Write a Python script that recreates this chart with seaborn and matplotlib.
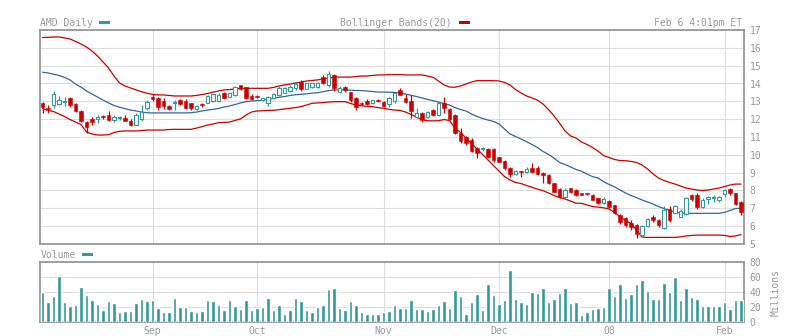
import numpy as np
import pandas as pd
import matplotlib
matplotlib.use("Agg")
import matplotlib.pyplot as plt
from matplotlib.patches import Rectangle
import seaborn as sns

# ---- data (AMD daily, Aug 6 2007 .. Feb 6 2008) ----
open_ = [12.91, 12.63, 12.78, 12.87, 12.96, 13.19, 12.85, 12.46, 11.84, 12.03,
         12.03, 12.18, 12.23, 11.95, 12.07, 12.08, 11.91, 11.69, 12.03, 12.63,
         13.22, 13.19, 13.02, 12.74, 12.91, 13.08, 13.02, 12.91, 12.57, 12.84,
         12.92, 13.02, 13.03, 13.45, 13.26, 13.35, 13.90, 13.79, 13.30, 13.30,
         13.07, 12.92, 13.16, 13.35, 13.49, 13.58, 13.77, 14.10, 13.69, 13.80,
         13.82, 14.38, 13.92, 14.47, 13.54, 13.82, 13.50, 13.17, 12.90, 13.03,
         12.89, 13.07, 12.98, 12.85, 13.02, 13.63, 13.16, 13.02, 12.10, 12.33,
         12.10, 12.51, 12.23, 12.89, 12.55, 12.23, 11.24, 11.02, 10.83, 10.37,
         10.31, 10.33, 10.31, 9.86, 9.65, 9.24, 8.92, 9.11, 9.05, 9.24,
         9.24, 8.99, 8.87, 8.40, 8.07, 7.62, 8.12, 8.03, 7.86, 7.86,
         7.75, 7.56, 7.28, 7.41, 7.19, 6.65, 6.44, 6.16, 6.07, 5.50,
         6.01, 6.53, 6.35, 5.88, 6.95, 6.75, 6.53, 6.68, 7.75, 7.75,
         7.09, 7.51, 7.58, 7.47, 7.79, 8.07, 7.84, 7.37]
high = [12.96, 12.79, 13.60, 13.32, 13.24, 13.22, 12.91, 12.53, 11.90, 12.12,
        12.23, 12.25, 12.46, 12.23, 12.18, 12.23, 12.03, 12.35, 12.81, 13.08,
        13.43, 13.26, 13.19, 12.79, 13.08, 13.11, 13.11, 12.92, 12.79, 12.91,
        13.35, 13.48, 13.45, 13.51, 13.54, 13.86, 13.93, 13.82, 13.39, 13.35,
        13.20, 13.32, 13.44, 13.86, 13.82, 13.89, 14.10, 14.20, 14.04, 14.03,
        14.10, 14.47, 14.70, 14.53, 13.86, 13.88, 13.54, 13.26, 12.98, 13.11,
        13.09, 13.13, 13.03, 13.26, 13.52, 13.72, 13.41, 13.35, 12.61, 12.42,
        12.46, 12.57, 12.98, 13.26, 12.61, 12.27, 11.49, 11.06, 10.93, 10.46,
        10.46, 10.37, 10.37, 9.88, 9.71, 9.30, 9.15, 9.11, 9.33, 9.56,
        9.37, 9.05, 8.90, 8.42, 8.12, 8.12, 8.16, 8.08, 7.87, 7.87,
        7.78, 7.58, 7.62, 7.47, 7.21, 6.71, 6.50, 6.35, 6.12, 6.07,
        6.44, 6.63, 6.38, 7.13, 7.13, 7.19, 6.95, 7.62, 7.80, 7.84,
        7.56, 7.69, 7.75, 7.69, 8.07, 8.12, 7.87, 7.41]
low = [12.35, 12.35, 12.63, 12.81, 12.74, 12.68, 12.42, 11.84, 11.22, 11.67,
       11.79, 12.03, 11.90, 11.84, 11.95, 11.90, 11.62, 11.67, 11.91, 12.51,
       13.03, 12.51, 12.57, 12.51, 12.51, 12.78, 12.55, 12.50, 12.51, 12.70,
       12.89, 12.98, 12.98, 13.15, 13.24, 13.32, 13.63, 13.13, 13.07, 13.17,
       13.02, 12.74, 13.13, 13.30, 13.45, 13.54, 13.63, 13.60, 13.67, 13.77,
       13.73, 13.97, 13.80, 13.58, 13.45, 13.52, 12.96, 12.53, 12.77, 12.78,
       12.85, 12.96, 12.66, 12.66, 12.91, 13.33, 12.93, 12.07, 12.05, 11.86,
       12.07, 12.18, 12.18, 12.33, 11.95, 11.15, 10.65, 10.55, 10.18, 9.80,
       10.23, 9.80, 9.62, 9.60, 9.15, 8.77, 8.87, 8.77, 8.99, 8.96,
       8.87, 8.40, 8.36, 7.92, 7.56, 7.54, 7.88, 7.69, 7.75, 7.74,
       7.44, 7.24, 7.24, 7.00, 6.68, 6.12, 5.97, 5.79, 5.32, 5.45,
       5.97, 6.25, 5.97, 5.82, 6.25, 6.72, 6.50, 6.63, 7.43, 6.95,
       7.00, 7.24, 7.37, 7.34, 7.65, 7.75, 7.19, 6.62]
close = [12.68, 12.57, 13.41, 13.08, 13.02, 12.81, 12.47, 11.91, 11.58, 11.84,
         12.14, 12.12, 11.95, 12.12, 12.12, 11.91, 11.66, 12.25, 12.40, 12.96,
         13.15, 12.68, 12.74, 12.57, 12.98, 12.85, 12.63, 12.63, 12.74, 12.78,
         13.30, 13.39, 13.35, 13.20, 13.48, 13.79, 13.67, 13.20, 13.11, 13.22,
         13.17, 13.26, 13.41, 13.72, 13.73, 13.83, 13.97, 13.71, 14.01, 14.01,
         14.03, 14.04, 14.53, 13.72, 13.77, 13.61, 13.06, 12.68, 12.85, 12.83,
         13.07, 13.02, 12.74, 13.17, 13.44, 13.38, 12.99, 12.46, 12.33, 11.95,
         12.42, 12.23, 12.92, 12.61, 11.99, 11.21, 10.79, 10.68, 10.23, 10.12,
         10.40, 9.86, 9.71, 9.61, 9.24, 8.91, 9.11, 9.02, 9.19, 9.02,
         8.92, 8.87, 8.40, 7.93, 7.62, 8.03, 7.93, 7.75, 7.77, 7.78,
         7.47, 7.28, 7.52, 7.06, 6.72, 6.23, 6.07, 5.94, 5.56, 6.01,
         6.38, 6.35, 6.07, 6.91, 6.35, 7.13, 6.87, 7.56, 7.51, 7.09,
         7.47, 7.65, 7.65, 7.62, 8.03, 7.84, 7.23, 6.81]
bb_upper = [16.58, 16.59, 16.61, 16.61, 16.56, 16.50, 16.36, 16.21, 16.05, 15.82,
            15.54, 15.21, 14.87, 14.42, 14.03, 13.86, 13.75, 13.64, 13.54, 13.45,
            13.39, 13.36, 13.36, 13.33, 13.30, 13.30, 13.30, 13.30, 13.33, 13.38,
            13.44, 13.52, 13.58, 13.64, 13.66, 13.69, 13.73, 13.73, 13.73, 13.73,
            13.73, 13.73, 13.78, 13.86, 13.92, 13.97, 14.03, 14.08, 14.14, 14.17,
            14.20, 14.25, 14.31, 14.35, 14.36, 14.36, 14.36, 14.39, 14.42, 14.42,
            14.45, 14.48, 14.48, 14.50, 14.50, 14.50, 14.48, 14.48, 14.48, 14.48,
            14.42, 14.35, 14.14, 13.92, 13.80, 13.79, 13.86, 13.97, 14.08, 14.16,
            14.16, 14.16, 14.16, 14.14, 14.06, 13.92, 13.66, 13.47, 13.30, 13.19,
            13.07, 12.85, 12.54, 12.18, 11.78, 11.34, 11.06, 10.94, 10.72, 10.58,
            10.41, 10.21, 9.96, 9.85, 9.74, 9.68, 9.67, 9.63, 9.57, 9.43,
            9.21, 8.93, 8.70, 8.56, 8.45, 8.36, 8.25, 8.14, 8.08, 8.03,
            8.00, 8.03, 8.08, 8.14, 8.22, 8.31, 8.36, 8.36]
bb_middle = [14.63, 14.59, 14.52, 14.45, 14.34, 14.20, 13.97, 13.80, 13.58, 13.41,
             13.24, 13.07, 12.91, 12.77, 12.67, 12.59, 12.51, 12.46, 12.40, 12.36,
             12.35, 12.35, 12.35, 12.35, 12.35, 12.35, 12.35, 12.36, 12.40, 12.46,
             12.51, 12.55, 12.60, 12.68, 12.74, 12.82, 12.91, 12.98, 13.02, 13.04,
             13.07, 13.11, 13.17, 13.23, 13.27, 13.33, 13.37, 13.39, 13.42, 13.46,
             13.48, 13.54, 13.60, 13.64, 13.64, 13.64, 13.62, 13.61, 13.60, 13.58,
             13.55, 13.52, 13.52, 13.51, 13.50, 13.47, 13.41, 13.34, 13.27, 13.19,
             13.11, 13.04, 12.96, 12.87, 12.79, 12.65, 12.54, 12.46, 12.29, 12.15,
             12.04, 11.95, 11.87, 11.73, 11.45, 11.17, 11.03, 10.89, 10.74, 10.58,
             10.41, 10.19, 10.02, 9.82, 9.57, 9.46, 9.32, 9.18, 9.08, 8.92,
             8.78, 8.70, 8.50, 8.34, 8.20, 8.03, 7.86, 7.72, 7.60, 7.47,
             7.36, 7.24, 7.10, 6.99, 6.88, 6.79, 6.74, 6.72, 6.72, 6.72,
             6.72, 6.72, 6.72, 6.72, 6.77, 6.88, 6.99, 7.00]
bb_lower = [12.60, 12.49, 12.43, 12.29, 12.15, 11.98, 11.84, 11.70, 11.28, 11.17,
            11.11, 11.11, 11.13, 11.25, 11.32, 11.34, 11.34, 11.34, 11.36, 11.39,
            11.39, 11.39, 11.39, 11.42, 11.43, 11.43, 11.43, 11.43, 11.50, 11.58,
            11.67, 11.73, 11.80, 11.82, 11.84, 11.93, 12.01, 12.23, 12.40, 12.46,
            12.47, 12.49, 12.50, 12.53, 12.57, 12.61, 12.65, 12.70, 12.79, 12.89,
            12.91, 12.93, 12.96, 12.98, 12.98, 12.98, 12.88, 12.79, 12.75, 12.72,
            12.70, 12.65, 12.61, 12.55, 12.51, 12.49, 12.40, 12.26, 12.12, 11.98,
            11.91, 11.91, 11.91, 11.98, 11.92, 11.50, 11.25, 10.94, 10.63, 10.33,
            10.02, 9.71, 9.40, 9.09, 8.78, 8.59, 8.45, 8.39, 8.28, 8.18,
            8.08, 7.99, 7.86, 7.72, 7.61, 7.52, 7.41, 7.29, 7.28, 7.19,
            7.10, 7.07, 7.03, 6.96, 6.77, 6.53, 6.32, 6.15, 5.78, 5.39,
            5.37, 5.37, 5.37, 5.37, 5.37, 5.37, 5.40, 5.45, 5.48, 5.50,
            5.50, 5.50, 5.50, 5.50, 5.48, 5.42, 5.45, 5.53]
volume = [40.0, 26.7, 34.7, 61.3, 26.7, 21.3, 22.7, 46.7, 36.0, 29.3,
          24.0, 16.0, 28.0, 25.3, 13.3, 14.7, 14.7, 25.3, 30.7, 28.0,
          29.3, 18.7, 13.3, 13.3, 32.0, 20.0, 20.0, 14.7, 13.3, 14.7,
          29.3, 28.0, 22.7, 16.0, 29.3, 21.3, 17.3, 29.3, 16.0, 18.7,
          20.0, 32.0, 16.0, 22.7, 10.7, 16.0, 32.0, 28.0, 16.0, 13.3,
          20.0, 22.7, 44.0, 45.3, 18.7, 16.0, 28.0, 22.7, 13.3, 10.7,
          10.7, 10.7, 13.3, 14.7, 22.7, 18.7, 18.7, 29.3, 17.3, 17.3,
          14.7, 17.3, 22.7, 28.0, 18.7, 42.7, 34.7, 10.7, 26.7, 37.3,
          16.0, 50.7, 36.0, 24.0, 29.3, 69.3, 30.7, 26.7, 24.0, 40.0,
          38.7, 45.3, 26.7, 30.7, 38.7, 45.3, 25.3, 26.7, 9.3, 13.3,
          17.3, 18.7, 20.0, 45.3, 34.7, 50.7, 32.0, 37.3, 50.7, 56.0,
          41.3, 30.7, 30.7, 52.0, 40.0, 60.0, 29.3, 45.3, 33.3, 30.7,
          21.3, 21.3, 21.3, 21.3, 26.7, 17.3, 29.3, 29.3]
month_labels = ["Sep", "Oct", "Nov", "Dec", "08", "Feb"]
month_index = [20, 39, 62, 83, 103, 124]
price_ticks = list(range(5, 18))
volume_ticks = [0, 20, 40, 60, 80]

# ---- style ----
TEAL = "#339999"
RED = "#cc0000"
BLUE = "#336699"
GRID = "#dddddd"
FRAME = "#999999"
TXT = "#999999"

sns.set_style("white")
plt.rcParams["font.family"] = ["DejaVu Sans Mono", "DejaVu Sans"]

W, H = 794, 336
fig = plt.figure(figsize=(W / 100, H / 100), dpi=100)


def fx(px):
    return px / W


def fy(py):
    return 1 - py / H


ax = fig.add_axes([fx(40), fy(244), (744 - 40) / W, (244 - 30) / H])
axv = fig.add_axes([fx(40), fy(322), (744 - 40) / W, (322 - 262) / H])

o = np.array(open_)
h = np.array(high)
l = np.array(low)
c = np.array(close)
n = len(c)
idx = np.arange(n)
up = c >= o

df = pd.DataFrame({"day": idx, "upper": bb_upper, "middle": bb_middle,
                   "lower": bb_lower, "volume": volume})

# Bollinger bands
sns.lineplot(data=df, x="day", y="upper", ax=ax, color=RED, lw=0.9, zorder=2)
sns.lineplot(data=df, x="day", y="lower", ax=ax, color=RED, lw=0.9, zorder=2)
sns.lineplot(data=df, x="day", y="middle", ax=ax, color=BLUE, lw=0.9, zorder=2)

# candles
wick_colors = [TEAL if u else RED for u in up]
ax.vlines(idx, l, h, colors=wick_colors, lw=0.9, zorder=3)
body_bot = np.minimum(o, c)
body_h = np.maximum(np.abs(c - o), 0.035)
ax.bar(idx[~up], body_h[~up], bottom=body_bot[~up], width=0.62,
       color=RED, edgecolor=RED, lw=0.4, zorder=4)
ax.bar(idx[up], body_h[up], bottom=body_bot[up], width=0.55,
       facecolor="white", edgecolor=TEAL, lw=0.8, zorder=4)

# volume
sns.barplot(data=df, x="day", y="volume", ax=axv, native_scale=True,
            color=TEAL, saturation=1, width=0.55, errorbar=None, zorder=3)

xlim = (-0.455, 127.545)
for a in (ax, axv):
    a.set_xlim(*xlim)
    a.set_xticks(month_index)
    a.grid(True, color=GRID, lw=0.8)
    a.set_axisbelow(True)
    for s in a.spines.values():
        s.set_color(FRAME)
        s.set_linewidth(1.3)
        s.set_visible(True)
    a.yaxis.tick_right()
    a.tick_params(axis="both", length=0, labelcolor=TXT, labelsize=7)
    a.tick_params(axis="y", pad=4)
    a.set_xlabel("")
    a.set_ylabel("")

ax.set_ylim(5, 17)
ax.set_yticks(price_ticks)
ax.set_xticklabels([])
axv.set_ylim(0, 80)
axv.set_yticks(volume_ticks)
axv.set_xticklabels(month_labels)
axv.tick_params(axis="x", pad=3)

# header texts
fig.text(fx(40), fy(23), "AMD Daily", ha="left", va="center", fontsize=7, color=TXT)
fig.text(fx(452), fy(23), "Bollinger Bands(20)", ha="right", va="center", fontsize=7, color=TXT)
fig.text(fx(742), fy(23), "Feb 6 4:01pm ET", ha="right", va="center", fontsize=7, color=TXT)
fig.text(fx(40.5), fy(255), "Volume", ha="left", va="center", fontsize=7, color=TXT)
fig.text(fx(776), fy(293), "Millions", ha="center", va="center", rotation=90, fontsize=7, color=TXT)


def dash(x0, x1, yc, color):
    fig.add_artist(Rectangle((fx(x0), fy(yc + 1.7)), (x1 - x0) / W, 3.4 / H,
                             transform=fig.transFigure, color=color, lw=0))


dash(99, 110, 22.5, TEAL)
dash(459, 470, 22.5, RED)
dash(82, 93, 254.5, TEAL)

fig.savefig("out.png", dpi=100)
